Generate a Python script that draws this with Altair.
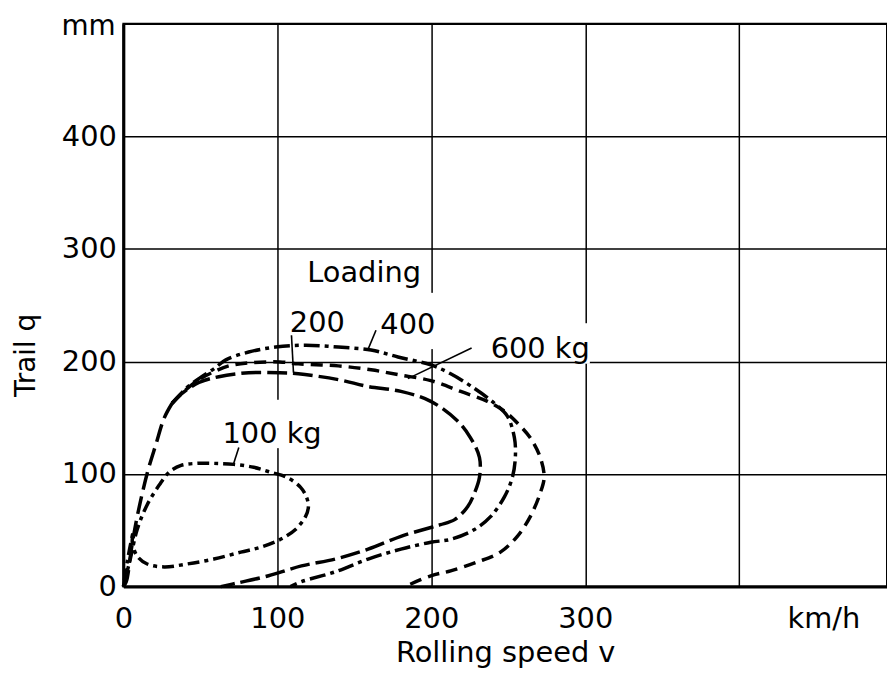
import altair as alt
import pandas as pd

# ---- data ----
loads = ["trunk", "100 kg", "200 kg", "400 kg", "600 kg"]

trunk_x = [0, 1.9, 5.2, 9.0, 15.5, 21.3, 26.5, 31.7]
trunk_y = [0, 4.4, 33.3, 62.2, 100.7, 127.0, 149.7, 162.9]

x_100 = [0, 4.5, 9, 15.5, 23.3, 29.7, 37.5, 47.8, 58.8, 71.7, 84.7, 95.6, 106, 115, 118.9,
         120.2, 118.3, 111.8, 102.1, 89.2, 76.3, 58.8, 41.4, 26.5, 15.5, 9, 5.8, 6.5, 2.6, 0]
y_100 = [0, 24.5, 50.8, 72.7, 90.2, 101.6, 107.7, 109.5, 109.5, 108.6, 106, 101.6, 97.2, 88.4, 79.7,
         70.9, 62.2, 50.8, 42, 35, 30.6, 24.5, 20.1, 17.5, 20.1, 27.1, 39.4, 49, 22.8, 0]

x_200 = [31.7, 38.1, 49.1, 62, 81.4, 101.5, 113.7, 139.6, 159, 180.3, 199.7, 217.1, 225.5, 231.3, 231.3,
         228.1, 223.6, 215.2, 206.0, 199.7, 180.3, 159, 137.6, 115.7, 94.3, 75, 63.3]
y_200 = [162.9, 171.6, 181.3, 186.5, 190, 190, 189.1, 183.9, 177.8, 173.4, 164.6, 147.1, 132.2, 114.7, 97.2,
         83.2, 70.9, 59.5, 55.0, 52.5, 44.7, 33.3, 24.5, 18.4, 9.6, 3.5, 0]

x_400 = [31.7, 40.7, 49.1, 58.8, 66.6, 81.4, 98.9, 118.3, 139.6, 160.9, 178.4, 199.7, 212.6, 228.1, 241,
         249.4, 254, 254.6, 252.7, 247.5, 238.5, 228.1, 212.6, 199.7, 180.3, 159, 137.6, 115.7, 108.6]
y_400 = [162.9, 176, 184.8, 193.5, 201.4, 208.4, 212.8, 214.5, 212.8, 210.2, 204, 197, 189.1, 176, 162.9,
         151.5, 132.2, 114.7, 97.2, 79.7, 62.2, 50.8, 42, 39.4, 33.3, 24.5, 13.1, 4.4, 0]

x_600 = [31.7, 39.4, 49.1, 58.8, 68.5, 81.4, 101.5, 113.7, 139.6, 160.9, 178.4, 199.7, 219.1, 236.5, 247.5,
         255.9, 264.3, 270.8, 273.3, 270.8, 264.3, 255.9, 244.9, 230, 212.6, 199.7, 182.9]
y_600 = [162.9, 173.4, 183.9, 190.9, 196.1, 198.8, 199.6, 197.9, 196.1, 192.6, 188.3, 183, 173.4, 164.6, 155.9,
         145.4, 132.2, 114.7, 97.2, 83.2, 62.2, 44.7, 30.6, 21.9, 14, 9.6, 0]

dashes = [[18, 7], [12, 5, 4, 5], [20, 6], [16, 5, 4, 5], [12, 7]]

label_text = ["Loading", "200", "400", "600 kg", "100 kg"]
label_x = [156.4, 126, 184.8, 270.8, 96.6]
label_y = [270.6, 226, 224, 203, 127.8]

leader_x1 = [109.2, 164.1, 226.2, 75.0]
leader_y1 = [223.3, 227.7, 212.0, 123.5]
leader_x2 = [110.5, 159.0, 184.8, 71.7]
leader_y2 = [190.0, 211.0, 184.8, 109.5]

gap_x1 = [196, 97, 297]
gap_x2 = [204, 103, 303]
gap_y1 = [211, 123, 198]
gap_y2 = [261, 166, 234]

x_ticks = [0, 100, 200, 300, 400]
y_ticks = [0, 100, 200, 300, 400, 500]

# ---- build tables ----
rows = []
curves = {
    "trunk": (trunk_x, trunk_y),
    "100 kg": (x_100, y_100),
    "200 kg": (x_200, y_200),
    "400 kg": (x_400, y_400),
    "600 kg": (x_600, y_600),
}
for name, (xs_, ys_) in curves.items():
    for i, (a, b) in enumerate(zip(xs_, ys_)):
        rows.append({"load": name, "i": i, "v": a, "q": b})
df = pd.DataFrame(rows)

labels = pd.DataFrame({"t": label_text, "x": label_x, "y": label_y})
leaders = pd.DataFrame({"x": leader_x1, "y": leader_y1, "x2": leader_x2, "y2": leader_y2})
gaps = pd.DataFrame({"x": gap_x1, "x2": gap_x2, "y": gap_y1, "y2": gap_y2})
unit = pd.DataFrame({"t": ["km/h"], "x": [455], "y": [-29]})
unit_y = pd.DataFrame({"t": ["mm"], "x": [-5], "y": [500]})

FONT = "DejaVu Sans"
xs = alt.Scale(domain=[0, 496], nice=False)
ys = alt.Scale(domain=[0, 500], nice=False)

base_x = alt.X(
    "v:Q", scale=xs,
    axis=alt.Axis(values=x_ticks, title="Rolling speed v",
                  labelExpr="datum.value == 400 ? '' : datum.label",
                  labelPadding=32, labelBaseline="middle", labelFlush=False,
                  titleY=66, titleBaseline="middle", titleFontSize=29,
                  titleFont=FONT, titleFontWeight="normal"),
)
base_y = alt.Y(
    "q:Q", scale=ys,
    axis=alt.Axis(values=y_ticks, title="Trail q",
                  labelExpr="datum.value == 500 ? '' : datum.label",
                  labelPadding=7, labelFlush=False,
                  titleX=-97, titleY=333, titleAngle=270, titleBaseline="middle",
                  titleAlign="center", titleFontSize=28, titleFont=FONT,
                  titleFontWeight="normal"),
)

masks = alt.Chart(gaps).mark_rect(color="white").encode(
    x=alt.X("x:Q", scale=xs), x2="x2:Q", y=alt.Y("y:Q", scale=ys), y2="y2:Q"
)

lines = alt.Chart(df).mark_line(color="black", strokeWidth=3.5, strokeCap="butt",
                                interpolate="catmull-rom").encode(
    x=base_x,
    y=base_y,
    order="i:Q",
    detail="load:N",
    strokeDash=alt.StrokeDash("load:N", scale=alt.Scale(domain=loads, range=dashes), legend=None),
)

lead = alt.Chart(leaders).mark_rule(color="black", strokeWidth=1.6).encode(
    x=alt.X("x:Q", scale=xs), y=alt.Y("y:Q", scale=ys), x2="x2:Q", y2="y2:Q"
)

txt = alt.Chart(labels).mark_text(font=FONT, fontSize=29, color="black",
                                  baseline="alphabetic", align="center").encode(
    x=alt.X("x:Q", scale=xs), y=alt.Y("y:Q", scale=ys), text="t:N"
)

unit_txt = alt.Chart(unit).mark_text(font=FONT, fontSize=29, color="black",
                                     baseline="middle", align="center").encode(
    x=alt.X("x:Q", scale=xs), y=alt.Y("y:Q", scale=ys), text="t:N"
)

mm_txt = alt.Chart(unit_y).mark_text(font=FONT, fontSize=28, color="black",
                                     baseline="middle", align="right", dy=3).encode(
    x=alt.X("x:Q", scale=xs), y=alt.Y("y:Q", scale=ys), text="t:N"
)

chart = alt.layer(masks, lines, lead, txt, unit_txt, mm_txt).properties(
    width=768, height=566,
    autosize=alt.AutoSizeParams(type="none"),
    padding={"left": 116, "top": 14, "right": 0, "bottom": 88},
    background="white",
).configure_view(
    stroke="black", strokeWidth=2
).configure_axis(
    domainColor="black", domainWidth=3, gridColor="black", gridWidth=1.5,
    gridOpacity=1, tickSize=0, labelFont=FONT, labelFontSize=29, labelColor="black",
    titleColor="black", grid=True,
)

chart.save("out.html", embed_options={"renderer": "svg", "actions": False})
